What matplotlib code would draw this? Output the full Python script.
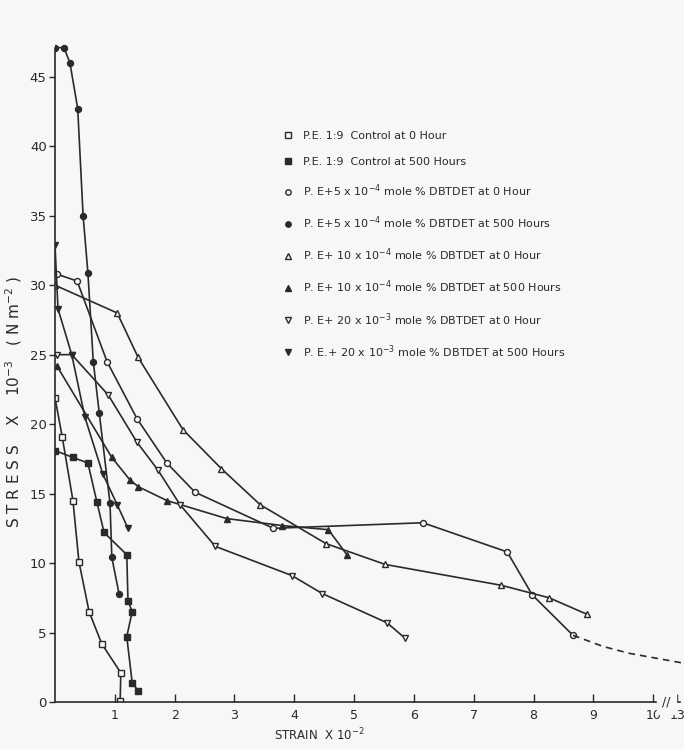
import numpy as np
import matplotlib.pyplot as plt

# strain (x 10^-2) and stress (x 10^-3 Nm^-2)
ctrl_0h_x = [0.0, 0.12, 0.30, 0.40, 0.57, 0.78, 1.10, 1.09]
ctrl_0h_y = [21.9, 19.1, 14.5, 10.1, 6.5, 4.2, 2.1, 0.1]

ctrl_500h_x = [0.0, 0.30, 0.55, 0.70, 0.82, 1.20, 1.22, 1.29, 1.20, 1.29, 1.39]
ctrl_500h_y = [18.1, 17.6, 17.2, 14.4, 12.2, 10.6, 7.3, 6.5, 4.7, 1.4, 0.8]

d5_0h_x = [0.03, 0.37, 0.87, 1.37, 1.87, 2.34, 3.65, 6.15, 7.56, 7.98, 8.66]
d5_0h_y = [30.8, 30.3, 24.5, 20.4, 17.2, 15.1, 12.5, 12.9, 10.8, 7.7, 4.8]
d5_0h_ext_x = [8.66, 9.16, 9.60, 10.50]
d5_0h_ext_y = [4.8, 4.0, 3.5, 2.8]

d5_500h_x = [0.0, 0.15, 0.25, 0.38, 0.47, 0.55, 0.64, 0.74, 0.92, 0.95, 1.07]
d5_500h_y = [47.1, 47.1, 46.0, 42.7, 35.0, 30.9, 24.5, 20.8, 14.3, 10.4, 7.8]

d10_0h_x = [0.0, 1.04, 1.39, 2.14, 2.78, 3.43, 4.53, 5.52, 7.46, 8.26, 8.90]
d10_0h_y = [30.0, 28.0, 24.8, 19.6, 16.8, 14.2, 11.4, 9.9, 8.4, 7.5, 6.3]

d10_500h_x = [0.03, 0.95, 1.25, 1.39, 1.87, 2.87, 3.80, 4.57, 4.88]
d10_500h_y = [24.2, 17.6, 16.0, 15.5, 14.5, 13.2, 12.7, 12.4, 10.6]

d20_0h_x = [0.03, 0.28, 0.89, 1.37, 1.72, 2.09, 2.68, 3.96, 4.47, 5.55, 5.85]
d20_0h_y = [25.0, 25.0, 22.1, 18.7, 16.7, 14.2, 11.2, 9.1, 7.8, 5.7, 4.6]

d20_500h_x = [0.0, 0.05, 0.28, 0.50, 0.80, 1.04, 1.22]
d20_500h_y = [32.9, 28.3, 25.0, 20.5, 16.4, 14.2, 12.5]

labels = [
    'P.E. 1:9  Control at 0 Hour',
    'P.E. 1:9  Control at 500 Hours',
    'P. E+5 x 10$^{-4}$ mole % DBTDET at 0 Hour',
    'P. E+5 x 10$^{-4}$ mole % DBTDET at 500 Hours',
    'P. E+ 10 x 10$^{-4}$ mole % DBTDET at 0 Hour',
    'P. E+ 10 x 10$^{-4}$ mole % DBTDET at 500 Hours',
    'P. E+ 20 x 10$^{-3}$ mole % DBTDET at 0 Hour',
    'P. E.+ 20 x 10$^{-3}$ mole % DBTDET at 500 Hours',
]

x_ticks = [1, 2, 3, 4, 5, 6, 7, 8, 9, 10, 10.4]
x_tick_labels = ['1', '2', '3', '4', '5', '6', '7', '8', '9', '10', '13']
y_ticks = [0, 5, 10, 15, 20, 25, 30, 35, 40, 45]

bg = '#f7f7f5'
ink = '#2a2a2a'

fig = plt.figure(figsize=(6.84, 7.49), dpi=100)
fig.patch.set_facecolor(bg)
ax = fig.add_axes([0.0804, 0.0628, 0.92, 0.881])
ax.set_facecolor('none')

series = [
    (ctrl_0h_x, ctrl_0h_y, 's', False),
    (ctrl_500h_x, ctrl_500h_y, 's', True),
    (d5_0h_x, d5_0h_y, 'o', False),
    (d5_500h_x, d5_500h_y, 'o', True),
    (d10_0h_x, d10_0h_y, '^', False),
    (d10_500h_x, d10_500h_y, '^', True),
    (d20_0h_x, d20_0h_y, 'v', False),
    (d20_500h_x, d20_500h_y, 'v', True),
]

for (x, y, m, filled), lab in zip(series, labels):
    ax.plot(x, y, color=ink, lw=1.2, marker=m, ms=4.3, mec=ink,
            mfc=ink if filled else bg, mew=1.0, label=lab)

ax.plot(d5_0h_ext_x, d5_0h_ext_y, color=ink, lw=1.2, ls=(0, (4, 3)))

ax.set_xlim(0, 10.52)
ax.set_ylim(0, 47.5)

for s in ['top', 'right']:
    ax.spines[s].set_visible(False)
ax.spines['left'].set_bounds(0, 47.1)
ax.spines['bottom'].set_bounds(0, 10.45)
ax.spines['left'].set_color(ink)
ax.spines['bottom'].set_color(ink)
ax.spines['left'].set_linewidth(1.2)
ax.spines['bottom'].set_linewidth(1.2)

ax.set_xticks(x_ticks)
ax.set_xticklabels(x_tick_labels)
ax.set_yticks(y_ticks)
ax.tick_params(axis='x', direction='in', length=6, width=1, colors=ink,
               labelsize=9, pad=5)
ax.tick_params(axis='y', direction='out', length=4, width=1, colors=ink,
               labelsize=9.5, pad=2)

# axis break mark
ax.text(10.22, 0, '//', ha='center', va='center', fontsize=9, color=ink,
        backgroundcolor=bg)

ax.set_xlabel('STRAIN  X 10$^{-2}$', fontsize=8.5, color=ink)
ax.xaxis.set_label_coords(0.42, -0.037)
ax.set_ylabel('S T R E S S    X    10$^{-3}$   ( N m$^{-2}$ )', fontsize=11,
              color=ink)
ax.yaxis.set_label_coords(-0.05, 0.455)

leg = ax.legend(loc='upper left', bbox_to_anchor=(0.355, 0.88), frameon=False,
                fontsize=8, labelspacing=1.4, handlelength=0,
                handletextpad=1.3, markerscale=0.9)
for t in leg.get_texts():
    t.set_color(ink)

fig.savefig('out.png', dpi=100, facecolor=bg)
